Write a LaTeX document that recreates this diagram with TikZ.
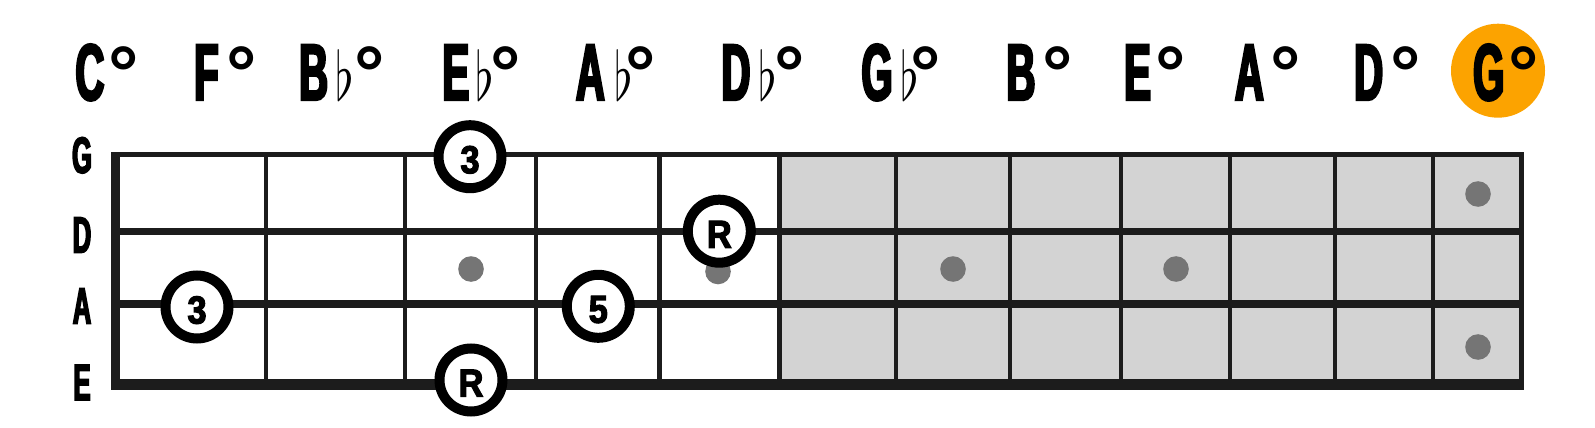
\documentclass[tikz,border=0pt]{standalone}
\usepackage{fontspec}
\newfontfamily\condfont[FakeStretch=0.5,FakeBold=3]{Liberation Sans Bold}
\newfontfamily\circfont[FakeStretch=0.88,FakeBold=3]{Liberation Sans Bold}
\newfontfamily\degfam{Liberation Sans Bold}
\definecolor{fbgray}{RGB}{211,211,211}
\definecolor{dotgray}{RGB}{117,117,117}
\definecolor{fbline}{RGB}{28,28,28}
\definecolor{hilite}{RGB}{252,163,0}
\newcommand\strtxt[1]{{\fontsize{51}{51}\selectfont\condfont #1}}
\newcommand\fingtxt[1]{{\fontsize{39}{39}\selectfont\circfont #1}}
\newcommand\chordlbl[4]{\rlap{\fontsize{80}{80}\selectfont\condfont #1}\rlap{\hspace*{#2}\scalebox{4.8}[6.8]{$#3$}}\hspace*{#4}\raisebox{1pt}{\fontsize{76}{76}\selectfont\degfam °}}
\tikzset{
  toplab/.style={anchor=base west, inner sep=0pt, text=black},
  strlab/.style={anchor=center, inner sep=0pt},
  finger/.style={circle, draw=black, fill=white, line width=10pt, minimum size=63pt, inner sep=0pt,
     text height=33pt, text depth=0pt},
  ghost/.style={circle, fill=dotgray, minimum size=25.6pt, inner sep=0pt},
  fret/.style={draw=fbline, line width=4.4pt},
}
\begin{document}
\begin{tikzpicture}[x=1pt,y=-1pt]
\useasboundingbox (0,0) rectangle (1595,428);
\fill[white] (0,0) rectangle (1595,428);
% shaded region
\fill[fbgray] (779.5,154) rectangle (1521.8,386);
% strings
\draw[fbline, line width=4.5pt] (115,154.5) -- (1524.3,154.5);
\draw[fbline, line width=6.5pt] (115,231.7) -- (1524.3,231.7);
\draw[fbline, line width=8pt] (115,304) -- (1524.3,304);
\draw[fbline, line width=10.6pt] (115,384.7) -- (1524.3,384.7);
% frets
\foreach \fx in {266,405,536,659.5,779.5,896,1010,1121,1230,1334.7,1432.7}
  \draw[fret] (\fx,152.3) -- (\fx,390);
\draw[fbline, line width=5pt] (1521.8,152.3) -- (1521.8,390);
% nut
\fill[fbline] (110.7,151.7) rectangle (120,390);
% gray dots
\node[ghost] (g1) at (471,269) {};
\node[ghost] (g2) at (718,271.5) {};
\node[ghost] (g3) at (953,269) {};
\node[ghost] (g4) at (1176,269) {};
\node[ghost] (g5) at (1478,194) {};
\node[ghost] (g6) at (1478,347) {};
% finger circles
\node[finger] (f1) at (470,156.7) {\fingtxt{3}};
\node[finger] (f2) at (197,307) {\fingtxt{3}};
\node[finger] (f3) at (471,380) {\fingtxt{R}};
\node[finger] (f4) at (598.3,306.3) {\fingtxt{5}};
\node[finger] (f5) at (719.3,231.2) {\fingtxt{R}};
% string labels
\node[strlab] (sG) at (82,155.3) {\strtxt{G}};
\node[strlab] (sD) at (82,235) {\strtxt{D}};
\node[strlab] (sA) at (82,306) {\strtxt{A}};
\node[strlab] (sE) at (82,382.5) {\strtxt{E}};
% highlight
\fill[hilite] (1498,70.7) circle (47);
% chord labels
\node[toplab] (c1) at (75.3,100) {\chordlbl{C}{0pt}{}{33pt}};
\node[toplab] (c2) at (194,100) {\chordlbl{F}{0pt}{}{32.2pt}};
\node[toplab] (c3) at (299,100) {\chordlbl{B}{36pt}{\flat}{55.5pt}};
\node[toplab] (c4) at (442.3,100) {\chordlbl{E}{32.7pt}{\flat}{47.5pt}};
\node[toplab] (c5) at (575.7,100) {\chordlbl{A}{39pt}{\flat}{49.8pt}};
\node[toplab] (c6) at (721.3,100) {\chordlbl{D}{37pt}{\flat}{52.9pt}};
\node[toplab] (c7) at (861.3,100) {\chordlbl{G}{38.7pt}{\flat}{49.2pt}};
\node[toplab] (c8) at (1006.3,100) {\chordlbl{B}{0pt}{}{35.9pt}};
\node[toplab] (c9) at (1124,100) {\chordlbl{E}{0pt}{}{30.8pt}};
\node[toplab] (c10) at (1234.7,100) {\chordlbl{A}{0pt}{}{35.1pt}};
\node[toplab] (c11) at (1354,100) {\chordlbl{D}{0pt}{}{36.5pt}};
\node[toplab] (c12) at (1473,100) {\chordlbl{G}{0pt}{}{35.2pt}};
\end{tikzpicture}
\end{document}
